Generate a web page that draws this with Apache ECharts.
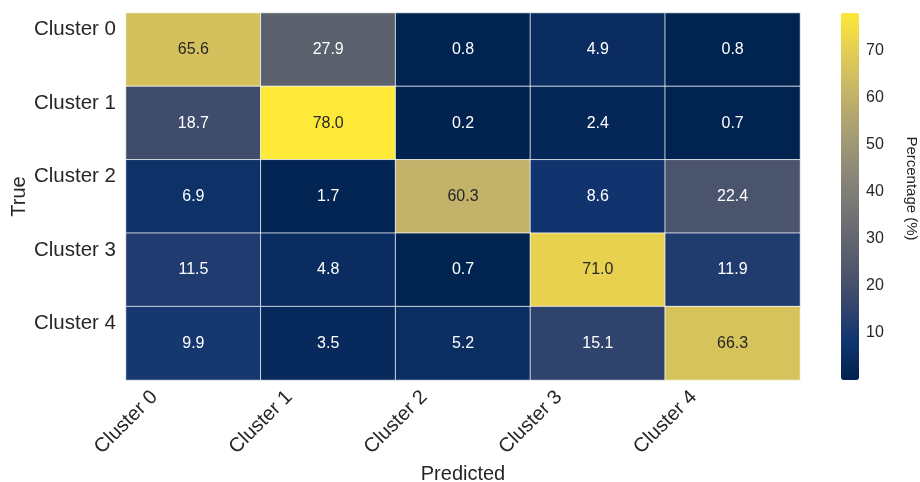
<!DOCTYPE html>
<html>
<head>
<meta charset="utf-8">
<script src="https://cdn.jsdelivr.net/npm/echarts@6/dist/echarts.min.js"></script>
<style>html,body{margin:0;padding:0;background:#fff}#c{width:920px;height:482px}</style>
</head>
<body>
<div id="c"></div>
<script>
const predictedLabels = ['Cluster 0', 'Cluster 1', 'Cluster 2', 'Cluster 3', 'Cluster 4'];
const trueLabels = ['Cluster 0', 'Cluster 1', 'Cluster 2', 'Cluster 3', 'Cluster 4'];
const row0 = [65.6, 27.9, 0.8, 4.9, 0.8];
const row1 = [18.7, 78.0, 0.2, 2.4, 0.7];
const row2 = [6.9, 1.7, 60.3, 8.6, 22.4];
const row3 = [11.5, 4.8, 0.7, 71.0, 11.9];
const row4 = [9.9, 3.5, 5.2, 15.1, 66.3];
const rows = [row0, row1, row2, row3, row4];
const colorbarTicks = [10, 20, 30, 40, 50, 60, 70];
const cividis = ['#00224e', '#123570', '#3b496c', '#575d6d', '#707173', '#8a8678', '#a59c74', '#c3b369', '#e1cc55', '#fee838'];

const FONT = "'Liberation Sans', Arial, sans-serif";
const TXT = '#262626';
const all = rows.flat();
const vmin = Math.min(...all), vmax = Math.max(...all);

const data = [];
rows.forEach((r, i) => r.forEach((v, j) => {
  data.push({ value: [j, i, v], label: { color: v > 40 ? TXT : '#ffffff' } });
}));

const chart = echarts.init(document.getElementById('c'), null, { renderer: 'canvas' });
chart.setOption({
  backgroundColor: '#ffffff',
  animation: false,
  textStyle: { fontFamily: FONT },
  grid: [
    { left: 126, right: 120, top: 13, bottom: 102, containLabel: false, outerBoundsMode: 'none' },
    { left: 841, width: 18, top: 13, height: 367, containLabel: false, outerBoundsMode: 'none' }
  ],
  xAxis: [
    {
      type: 'category', data: predictedLabels, gridIndex: 0,
      axisLine: { show: false }, axisTick: { show: false }, splitLine: { show: false },
      axisLabel: {
        interval: 0, rotate: 45, margin: 9, hideOverlap: false,
        formatter: v => `{t|${v}}{g|}\n{s|}`,
        rich: {
          t: { fontSize: 20, color: TXT, fontFamily: FONT, lineHeight: 22 },
          g: { width: 31, height: 22, lineHeight: 22 },
          s: { height: 48, lineHeight: 48, width: 1 }
        }
      },
      name: 'Predicted', nameLocation: 'middle', nameGap: 84, nameMoveOverlap: false,
      nameTextStyle: { fontSize: 20, color: TXT, fontFamily: FONT }
    },
    { type: 'value', gridIndex: 1, show: false, min: 0, max: 1 }
  ],
  yAxis: [
    {
      type: 'category', data: trueLabels, gridIndex: 0, inverse: true,
      axisLine: { show: false }, axisTick: { show: false }, splitLine: { show: false },
      axisLabel: {
        interval: 0, margin: 10, hideOverlap: false,
        formatter: v => `{t|${v}}\n{s|}`,
        rich: {
          t: { fontSize: 20.5, color: TXT, fontFamily: FONT, lineHeight: 22 },
          s: { height: 40, lineHeight: 40, width: 1 }
        }
      },
      name: 'True', nameLocation: 'middle', nameGap: 97, nameRotate: 90, nameMoveOverlap: false,
      nameTextStyle: { fontSize: 20, color: TXT, fontFamily: FONT }
    },
    {
      type: 'value', gridIndex: 1, position: 'right', min: 0, max: 78, interval: 10,
      axisLine: { show: false }, splitLine: { show: false },
      axisTick: { show: true, length: 4, lineStyle: { color: TXT, width: 1 } },
      axisLabel: {
        fontSize: 16, color: TXT, fontFamily: FONT, margin: 7, showMaxLabel: false, showMinLabel: false,
        formatter: v => colorbarTicks.includes(v) ? String(v) : ''
      },
      name: 'Percentage (%)', nameLocation: 'middle', nameGap: 45, nameRotate: -90, nameMoveOverlap: false,
      nameTextStyle: { fontSize: 15, color: TXT, fontFamily: FONT, padding: [0, 16, 0, 0] }
    }
  ],
  visualMap: {
    type: 'continuous', min: vmin, max: vmax, calculable: false, seriesIndex: 0,
    orient: 'vertical', left: 841, top: 13, padding: 0, itemWidth: 18, itemHeight: 367,
    hoverLink: false,
    inRange: { color: cividis }
  },
  series: [{
    type: 'heatmap', xAxisIndex: 0, yAxisIndex: 0, data: data,
    itemStyle: { borderColor: 'rgba(255,255,255,0.75)', borderWidth: 1 },
    label: { show: true, fontSize: 16, fontFamily: FONT, formatter: p => p.value[2].toFixed(1) },
    emphasis: { disabled: true }
  }]
});
</script>
</body>
</html>
